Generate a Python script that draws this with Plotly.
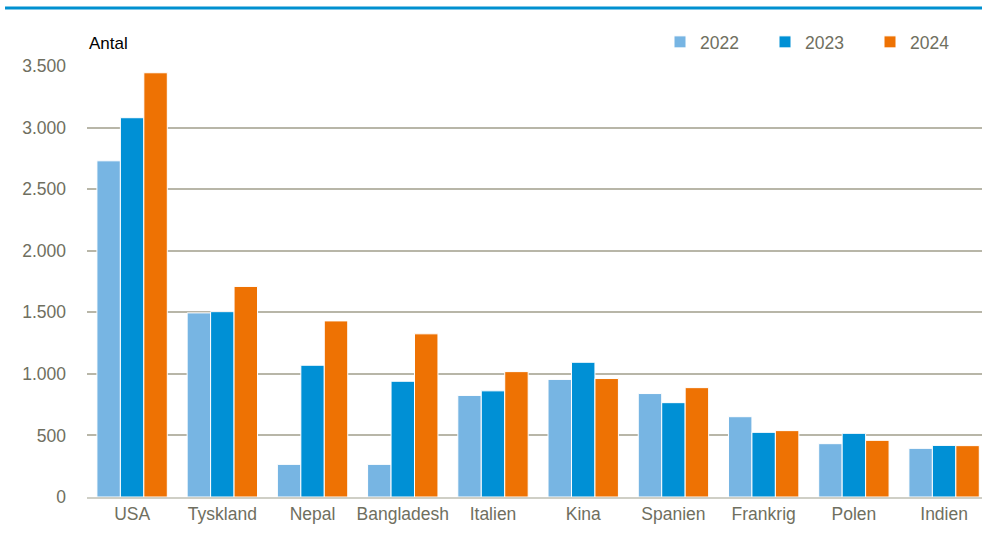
import plotly.graph_objects as go

categories = ["USA", "Tyskland", "Nepal", "Bangladesh", "Italien", "Kina", "Spanien", "Frankrig", "Polen", "Indien"]
series_names = ["2022", "2023", "2024"]
values_2022 = [2730, 1495, 265, 265, 825, 955, 840, 652, 433, 395]
values_2023 = [3080, 1505, 1070, 940, 862, 1094, 766, 525, 517, 419]
values_2024 = [3445, 1710, 1430, 1325, 1018, 962, 888, 539, 460, 417]
colors = ["#77B5E3", "#0090D5", "#EE7203"]
y_ticks = [0, 500, 1000, 1500, 2000, 2500, 3000, 3500]

FONT = "Liberation Sans, Arial, sans-serif"
GRAY = "#6f6f60"
FS = 17.5

fig = go.Figure()
for name, vals, col in zip(series_names, [values_2022, values_2023, values_2024], colors):
    fig.add_trace(go.Bar(
        x=categories, y=vals, name=name,
        marker=dict(color=col, line=dict(color="white", width=1)),
    ))

fig.update_layout(
    width=982, height=537,
    barmode="group", bargap=0.22, bargroupgap=0.0,
    plot_bgcolor="white", paper_bgcolor="white",
    separators=",.",
    margin=dict(l=87, r=0, t=66, b=40, autoexpand=False),
    font=dict(family=FONT, size=FS, color=GRAY),
    showlegend=True,
    legend=dict(
        orientation="h", xref="container", yref="container",
        x=0.6721, y=0.9218, xanchor="left", yanchor="middle",
        entrywidth=60, entrywidthmode="pixels", itemwidth=30,
        font=dict(family=FONT, size=FS, color=GRAY),
        bgcolor="rgba(0,0,0,0)", traceorder="normal",
    ),
    xaxis=dict(
        range=[-0.5, 9.42],
        showgrid=False, showline=True, linecolor="#cfcfc6", linewidth=2,
        ticks="", tickangle=0, tickfont=dict(family=FONT, size=FS, color=GRAY),
    ),
    yaxis=dict(
        range=[0, 3500], tickvals=y_ticks, tickformat=",d",
        showgrid=True, gridcolor="#b8b6a8", gridwidth=1.5,
        zeroline=False, showline=False, ticks="",
        tickfont=dict(family=FONT, size=FS, color=GRAY),
        ticklabelstandoff=20,
    ),
    shapes=[dict(type="line", xref="paper", yref="paper",
                 x0=-0.0916, x1=1.0, y0=1.1346, y1=1.1346,
                 line=dict(color="#0090D0", width=3))],
    annotations=[dict(text="Antal", xref="paper", yref="paper", x=0.0, y=1.053,
                      xanchor="left", yanchor="middle", showarrow=False,
                      font=dict(family=FONT, size=17, color="black"))],
)

fig.write_html(
    "out.html",
    config={"displayModeBar": False},
    post_script="document.body.style.margin='0';document.body.style.overflow='hidden';",
)
